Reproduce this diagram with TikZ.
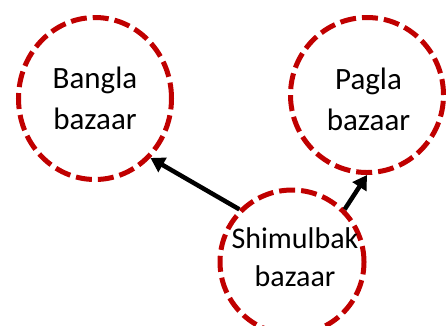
\documentclass[tikz,border=0pt]{standalone}
\usepackage{fontspec}
\setmainfont{Carlito}
\usetikzlibrary{shapes.geometric,arrows.meta}
\definecolor{ringred}{HTML}{C00000}
\begin{document}
\begin{tikzpicture}[x=1pt,y=-1pt,
  ring/.style={ellipse,draw=ringred,line width=5pt,dash pattern=on 16pt off 6pt,inner sep=0pt},
  ringtext/.style={align=center,inner sep=0pt,font=\fontsize{31}{41}\selectfont},
  arr/.style={draw=black,line width=4.5pt,-{Triangle[length=14pt,width=16pt]}}]
\useasboundingbox (0,0) rectangle (446,325);
\node[ring,minimum width=153pt,minimum height=162pt,
  label={[ringtext]center:Bangla\\bazaar}] (bg) at (95,98.5) {};
\node[ring,minimum width=153pt,minimum height=155pt,
  label={[ringtext,xshift=1.5pt,yshift=-4.5pt]center:Pagla\\bazaar}] (pg) at (367,95) {};
\node[ring,minimum width=144pt,minimum height=144pt,
  label={[ringtext,xshift=3pt,yshift=4.5pt,font=\fontsize{30}{38}\selectfont]center:Shimulbak\\bazaar}] (sh) at (292,262) {};
\draw[arr] (sh.135.6) -- (bg.-47.8);
\draw[arr] (sh.45.6) -- (pg.south);
\end{tikzpicture}
\end{document}
